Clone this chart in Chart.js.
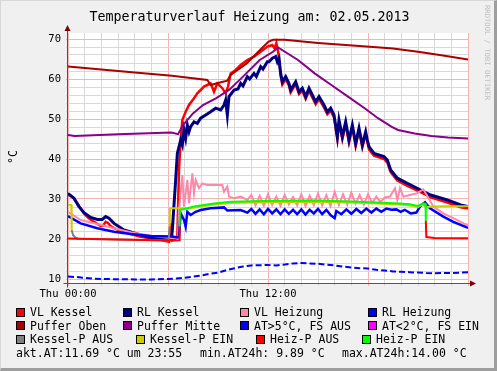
<!DOCTYPE html>
<html>
<head>
<meta charset="utf-8">
<script src="https://cdn.jsdelivr.net/npm/chart.js@4.4.0/dist/chart.umd.min.js"></script>
<style>
  body { margin: 0; background: #f0f0f0; }
  #wrap { position: relative; width: 497px; height: 371px; background: #f0f0f0; overflow: hidden;
          font-family: "DejaVu Sans Mono", monospace; color: #000; }
  canvas { position: absolute; left: 0; top: 0; }
  #frame { position: absolute; left: 0; top: 0; width: 497px; height: 371px; box-sizing: border-box;
           border-style: solid; border-width: 1px 3px 3px 1px;
           border-color: #d8d8d8 #9e9e9e #9e9e9e #d8d8d8; pointer-events: none; }
  .t { position: absolute; white-space: pre; line-height: 14px; }
  #title { left: 0; width: 499px; top: 9px; text-align: center; font-size: 13.3px; line-height: 16px; }
  #ylab { left: 6px; top: 150px; font-size: 11.5px; transform: rotate(-90deg); transform-origin: 7px 7px; }
  #credit { left: 492px; top: 5px; font-size: 7.2px; color: #bdbdbd; transform: rotate(90deg); transform-origin: 0 0; line-height: 9px; }
  .leg { position: absolute; font-size: 11.5px; line-height: 14px; white-space: pre; }
  .sq { position: absolute; width: 7px; height: 7px; border: 1px solid #000; }
</style>
</head>
<body>
<div id="wrap">
  <canvas id="chart" width="497" height="371"></canvas>
  <div class="t" id="title">Temperaturverlauf Heizung am: 02.05.2013</div>
  <div class="t" id="ylab">°C</div>
  <div class="t" id="credit">RRDTOOL / TOBI OETIKER</div>
  <div id="legend"></div>
  <div id="frame"></div>
</div>
<script>
// time in hours since Thu 00:00, value in °C
var vlKessel = [[0,31.1],[0.3,30.4],[0.56,28.9],[0.96,26.4],[1.26,25.1],[1.56,24.3],[1.96,23.25],[2.1,23.3],[2.26,24.3],[2.4,24.0],[2.55,23.2],[2.76,22.7],[3.2,22.0],[3.76,21.25],[4.3,20.6],[4.96,20.1],[5.5,19.8],[6.06,19.3],[6.16,23.9],[6.26,19.6],[6.36,19.75],[6.56,20.6],[6.66,37.25],[6.76,44.75],[6.86,49.75],[7.06,51.8],[7.26,53.5],[7.56,55.2],[7.76,56.4],[7.96,57.25],[8.16,58.1],[8.36,58.5],[8.56,58.9],[8.76,56.8],[8.96,58.9],[9.26,57.7],[9.46,56.4],[9.6,58.1],[9.76,61.4],[10.06,62.25],[10.36,63.5],[10.76,64.75],[11.16,65.6],[11.56,66.8],[11.96,68.1],[12.26,68.5],[12.4,67.6],[12.5,69.0],[12.62,66.5],[12.76,60.8],[12.86,58.6],[13.06,60.0],[13.26,58.3],[13.36,56.6],[13.66,58.7],[13.86,56.2],[14.06,57.1],[14.26,55.0],[14.46,57.0],[14.66,55.4],[14.86,53.7],[15.06,55.0],[15.36,52.9],[15.56,51.2],[15.76,52.1],[15.96,50.4],[16.16,45.0],[16.26,49.1],[16.46,44.9],[16.66,48.7],[16.86,44.1],[17.06,47.9],[17.26,43.2],[17.46,47.1],[17.66,42.9],[17.86,46.2],[18.06,42.4],[18.36,40.8],[18.96,40.0],[19.16,39.1],[19.36,36.7],[19.76,34.6],[20.36,33.3],[21.16,31.7],[21.76,30.4],[22.76,29.1],[23.56,27.9],[24,27.6]];

var rlKessel = [[0,31.4],[0.36,30.2],[0.66,28.1],[0.96,26.6],[1.36,25.4],[1.76,24.9],[2.06,24.9],[2.26,25.6],[2.46,25.2],[2.76,23.9],[3.36,22.25],[4.16,21.25],[4.96,20.4],[5.76,20.0],[6.2,19.9],[6.26,22.2],[6.46,34.75],[6.56,41.4],[6.76,44.75],[6.86,43.5],[6.96,47.25],[7.06,45.2],[7.16,48.5],[7.26,46.8],[7.36,48.1],[7.56,49.3],[7.76,48.9],[7.96,50.2],[8.26,51.0],[8.56,51.8],[8.86,52.7],[9.16,52.25],[9.36,53.5],[9.46,54.75],[9.56,51.0],[9.66,55.6],[9.96,57.25],[10.2,57.5],[10.36,58.9],[10.5,58.3],[10.76,60.6],[10.9,60.0],[11.16,61.4],[11.3,60.6],[11.56,63.1],[11.7,62.5],[11.96,64.3],[12.06,64.3],[12.26,65.2],[12.46,65.6],[12.56,64.3],[12.66,65.2],[12.76,61.4],[12.86,59.3],[13.06,60.6],[13.26,58.9],[13.36,57.25],[13.66,59.3],[13.86,56.8],[14.06,57.7],[14.26,55.6],[14.46,57.7],[14.66,56.0],[14.86,54.3],[15.06,55.6],[15.36,53.5],[15.56,51.8],[15.76,52.7],[15.96,51.0],[16.16,45.6],[16.26,49.75],[16.46,45.6],[16.66,49.3],[16.86,44.75],[17.06,48.5],[17.26,43.9],[17.46,47.7],[17.66,43.5],[17.86,46.8],[17.96,44.75],[18.06,43.1],[18.36,41.4],[18.96,40.6],[19.16,39.75],[19.36,37.25],[19.76,35.2],[20.36,33.9],[21.16,32.25],[21.76,31.0],[22.76,29.75],[23.56,28.5],[24,28.1]];

var vlHeizung = [[0,26.8],[0.76,24.75],[1.76,23.75],[2.76,22.7],[3.76,21.7],[4.96,20.8],[6.24,20.2],[6.6,20.4],[6.66,27.25],[6.86,36.0],[6.96,28.1],[7.16,34.75],[7.26,28.9],[7.46,36.4],[7.56,31.4],[7.66,34.75],[7.86,32.7],[8.06,33.9],[8.36,33.5],[8.76,33.5],[9.26,33.5],[9.36,31.8],[9.56,33.1],[9.66,30.6],[9.96,30.2],[10.36,30.6],[10.76,29.75],[11.0,31.0],[11.25,28.4],[11.5,30.8],[11.75,28.3],[12.0,31.2],[12.25,28.5],[12.5,30.6],[12.75,28.3],[13.0,31.0],[13.25,28.6],[13.5,30.5],[13.75,28.4],[14.0,31.2],[14.25,28.2],[14.5,30.8],[14.75,28.5],[15.0,31.4],[15.25,28.4],[15.5,31.0],[15.75,28.2],[16.0,31.8],[16.25,28.5],[16.5,31.2],[16.75,28.6],[17.0,31.6],[17.25,28.8],[17.5,31.0],[17.75,28.6],[18.0,31.2],[18.25,29.0],[18.5,30.6],[18.75,29.2],[19.0,30.4],[19.32,30.6],[19.62,32.7],[19.76,29.75],[19.92,32.7],[20.12,30.6],[20.52,31.0],[20.92,31.4],[21.32,32.4],[21.52,31.0],[21.92,28.1],[22.52,26.4],[23.12,25.2],[23.92,23.5],[24,23.4]];

var rlHeizung = [[0,25.75],[0.76,23.9],[1.76,22.7],[2.76,21.8],[3.76,21.25],[4.96,20.75],[6.24,20.6],[6.6,20.4],[6.66,20.6],[6.76,26.4],[6.96,24.75],[7.06,23.1],[7.16,26.8],[7.36,26.0],[7.66,26.8],[7.96,27.25],[8.56,27.7],[9.36,27.9],[9.56,27.1],[10.36,27.25],[10.76,26.6],[11.0,27.5],[11.25,26.3],[11.5,27.4],[11.75,26.2],[12.0,27.5],[12.25,26.4],[12.5,27.4],[12.75,26.2],[13.0,27.4],[13.25,26.3],[13.5,27.3],[13.75,26.2],[14.0,27.4],[14.25,26.1],[14.5,27.3],[14.75,26.4],[15.0,27.5],[15.25,26.2],[15.5,27.3],[15.75,26.0],[16.0,25.2],[16.1,27.0],[16.4,26.2],[16.7,27.4],[17.0,26.3],[17.3,27.5],[17.6,26.5],[17.9,27.6],[18.2,26.6],[18.5,27.6],[18.8,26.8],[19.1,27.6],[19.4,27.3],[19.7,27.4],[19.96,26.8],[20.2,27.3],[20.56,26.4],[20.9,26.6],[21.12,28.1],[21.42,29.2],[21.72,27.7],[22.52,25.6],[23.12,24.3],[23.92,22.9],[24,22.8]];

var pufferOben = [[0,63.1],[2,62.4],[4,61.6],[6.24,60.8],[8.36,59.75],[8.56,58.5],[9.0,59.0],[9.56,59.6],[9.76,61.0],[10.72,63.9],[11.52,67.25],[12.02,69.3],[12.3,69.8],[13.0,69.8],[15.0,69.0],[17.9,68.1],[19.5,67.6],[21.0,66.8],[22.5,65.9],[24,64.9]];

var pufferMitte = [[0,46.0],[0.4,45.75],[3,46.2],[6.2,46.6],[6.6,46.2],[6.9,48.5],[7.5,51.4],[8.1,53.5],[8.9,55.2],[9.7,57.4],[10.5,60.6],[11.5,64.75],[12.3,66.8],[12.6,67.9],[13.8,64.75],[14.8,61.4],[15.8,58.5],[16.8,55.6],[17.8,52.7],[18.6,50.2],[19.4,48.1],[19.8,47.25],[20.8,46.4],[21.8,45.75],[22.8,45.4],[24,45.1]];

var atAus = [[0,10.6],[0.5,10.5],[1,10.3],[1.5,10.1],[2,10.0],[3,9.95],[4,9.9],[5,9.89],[6,10.0],[6.5,10.1],[7,10.3],[7.5,10.6],[8,10.9],[8.5,11.3],[9,11.6],[9.5,12.2],[10,12.7],[10.5,13.1],[11,13.4],[12,13.5],[12.5,13.4],[13,13.6],[13.5,13.9],[14,14.0],[15,13.8],[15.5,13.6],[16,13.4],[16.5,13.1],[17,12.9],[17.5,12.7],[18,12.6],[18.5,12.3],[19,12.1],[19.5,11.9],[20,11.8],[20.5,11.7],[21,11.6],[21.5,11.5],[22,11.45],[23,11.5],[24,11.69]];

var atEin = [];

var kesselAus = [[0.22,22.3],[0.3,21.0],[0.45,20.3],[0.6,20.05],[3,19.9],[6.05,19.65],[6.1,23.1]];

var kesselEin = [[0,28.5],[0.2,28.5],[0.22,22.3],[3,null],[6.1,23.1],[6.12,27.7],[6.66,27.7],[7.0,27.6],[7.56,27.8],[8.0,28.1],[8.76,28.6],[9.76,29.0],[11.76,29.2],[14.76,29.3],[17,29.1],[18.5,28.9],[19.9,28.6],[20.5,28.4],[21.0,28.0],[21.3,28.6],[21.5,28.0],[22,28.1],[23,28.2],[24,28.2]];

var heizAus = [[0,20.1],[3,19.9],[6.2,19.6],[6.68,19.7],[6.7,23.1],[10,null],[21.47,24.5],[21.5,20.5],[22,20.25],[24,20.2]];

var heizEin = [[6.7,23.1],[6.72,27.25],[7.56,28.1],[8.76,28.9],[9.76,29.3],[11.76,29.5],[14.76,29.6],[17,29.4],[18.5,29.1],[19.9,28.9],[20.5,28.7],[21.0,28.25],[21.3,28.9],[21.45,28.8],[21.47,24.5]];

var seriesNames = ["VL Kessel", "RL Kessel", "VL Heizung", "RL Heizung", "Puffer Oben", "Puffer Mitte",
  "AT>5°C, FS AUS", "AT<2°C, FS EIN", "Kessel-P AUS", "Kessel-P EIN", "Heiz-P AUS", "Heiz-P EIN"];
var seriesData = [vlKessel, rlKessel, vlHeizung, rlHeizung, pufferOben, pufferMitte,
  atAus, atEin, kesselAus, kesselEin, heizAus, heizEin];

var xLabelHours = [0, 12];
var xLabelTexts = ["Thu 00:00", "Thu 12:00"];
var yLabelValues = [10, 20, 30, 40, 50, 60, 70];

var statTexts = ["akt.AT:11.69 °C um 23:55", "min.AT24h: 9.89 °C", "max.AT24h:14.00 °C"];

// styles
var seriesColors = ["#ff0000", "#000080", "#ff88aa", "#0000ff", "#aa0000", "#880088",
  "#0000ff", "#ff00ff", "#808080", "#cccc00", "#ff0000", "#00ff00"];
var seriesWidths = [2.5, 3, 2, 2.5, 2, 2, 2, 2, 2, 2, 2, 2];

var majorGrid = "#f5b4b4";
var minorGrid = "#d8d8d8";
var tickFont = { family: "DejaVu Sans Mono", size: 10.5 };

var gridHours = [];
for (var h = 0; h <= 24; h++) gridHours.push(h);
var gridTemps = [];
for (var t = 10; t <= 70; t += 2) gridTemps.push(t);

var datasets = seriesData.map(function (pts, i) {
  return {
    label: seriesNames[i],
    data: pts.map(function (p) { return { x: p[0], y: p[1] }; }),
    borderColor: seriesColors[i],
    backgroundColor: seriesColors[i],
    borderWidth: seriesWidths[i],
    borderDash: i == 6 ? [6, 3] : [],
    pointRadius: 0,
    tension: 0,
    fill: false,
    spanGaps: false,
    order: 20 - i,
  };
});

// white plot area + axes with arrows like rrdtool
var rrdFrame = {
  id: "rrdFrame",
  beforeDraw: function (chart) {
    var ctx = chart.ctx, a = chart.chartArea;
    ctx.save();
    ctx.fillStyle = "#ffffff";
    ctx.fillRect(a.left, a.top, a.right - a.left, a.bottom - a.top);
    ctx.restore();
  },
  afterDraw: function (chart) {
    var ctx = chart.ctx, a = chart.chartArea;
    var x0 = Math.round(a.left) - 0.5, y0 = Math.round(a.bottom) + 0.5;
    ctx.save();
    ctx.lineWidth = 1;
    ctx.strokeStyle = "#555555";
    ctx.beginPath();
    ctx.moveTo(x0 - 4, y0);
    ctx.lineTo(a.right + 4, y0);
    ctx.stroke();
    ctx.strokeStyle = "#8a3a3a";
    ctx.beginPath();
    ctx.moveTo(x0, y0 + 4);
    ctx.lineTo(x0, a.top - 4);
    ctx.stroke();
    ctx.fillStyle = "#7f0000";
    ctx.beginPath();
    ctx.moveTo(x0 - 3, a.top - 2);
    ctx.lineTo(x0 + 3, a.top - 2);
    ctx.lineTo(x0, a.top - 8);
    ctx.closePath();
    ctx.fill();
    ctx.beginPath();
    ctx.moveTo(a.right + 2, y0 - 3);
    ctx.lineTo(a.right + 2, y0 + 3);
    ctx.lineTo(a.right + 8, y0);
    ctx.closePath();
    ctx.fill();
    ctx.restore();
  },
};

var ctx = document.getElementById("chart").getContext("2d");
var chart = new Chart(ctx, {
  type: "line",
  data: { datasets: datasets },
  options: {
    responsive: false,
    animation: false,
    devicePixelRatio: 1,
    layout: { padding: { left: 0, top: 33, right: 29, bottom: 68 } },
    plugins: { legend: { display: false }, tooltip: { enabled: false }, title: { display: false } },
    scales: {
      x: {
        type: "linear",
        min: 0,
        max: 24,
        afterBuildTicks: function (scale) {
          scale.ticks = gridHours.map(function (v) { return { value: v }; });
        },
        afterFit: function (scale) { scale.height = 20; },
        ticks: {
          autoSkip: false,
          maxRotation: 0,
          padding: 2,
          color: "#000",
          font: tickFont,
          callback: function (v) {
            var k = xLabelHours.indexOf(v);
            return k >= 0 ? xLabelTexts[k] : "";
          },
        },
        grid: {
          tickLength: 3,
          color: function (c) { return c.tick && c.tick.value % 6 == 0 ? majorGrid : minorGrid; },
        },
        border: { display: false },
      },
      y: {
        type: "linear",
        min: 9,
        max: 71.5,
        afterBuildTicks: function (scale) {
          scale.ticks = gridTemps.map(function (v) { return { value: v }; });
        },
        afterFit: function (scale) { scale.width = 68; },
        ticks: {
          autoSkip: false,
          padding: 5,
          color: "#000",
          font: tickFont,
          callback: function (v) { return yLabelValues.indexOf(v) >= 0 ? String(v) : ""; },
        },
        grid: {
          tickLength: 2,
          color: function (c) { return c.tick && c.tick.value % 10 == 0 ? majorGrid : minorGrid; },
        },
        border: { display: false },
      },
    },
  },
  plugins: [rrdFrame],
});

// legend in four columns like rrdtool
var legendSquareX = [16, 123, 240, 368, 16, 123, 240, 368, 16, 136, 256, 362];
var legendRowY = [312, 325.5, 339];
var legendEl = document.getElementById("legend");
seriesNames.forEach(function (name, i) {
  var row = Math.floor(i / 4);
  var sq = document.createElement("div");
  sq.className = "sq";
  sq.style.left = legendSquareX[i] + "px";
  sq.style.top = (legendRowY[row] - 4.5) + "px";
  sq.style.background = seriesColors[i];
  legendEl.appendChild(sq);
  var tx = document.createElement("div");
  tx.className = "leg";
  tx.textContent = name;
  tx.style.left = (legendSquareX[i] + 14) + "px";
  tx.style.top = (legendRowY[row] - 7) + "px";
  legendEl.appendChild(tx);
});
var statX = [16, 200, 342];
statTexts.forEach(function (s, i) {
  var tx = document.createElement("div");
  tx.className = "leg";
  tx.textContent = s;
  tx.style.left = statX[i] + "px";
  tx.style.top = (353 - 7) + "px";
  legendEl.appendChild(tx);
});
</script>
</body>
</html>
